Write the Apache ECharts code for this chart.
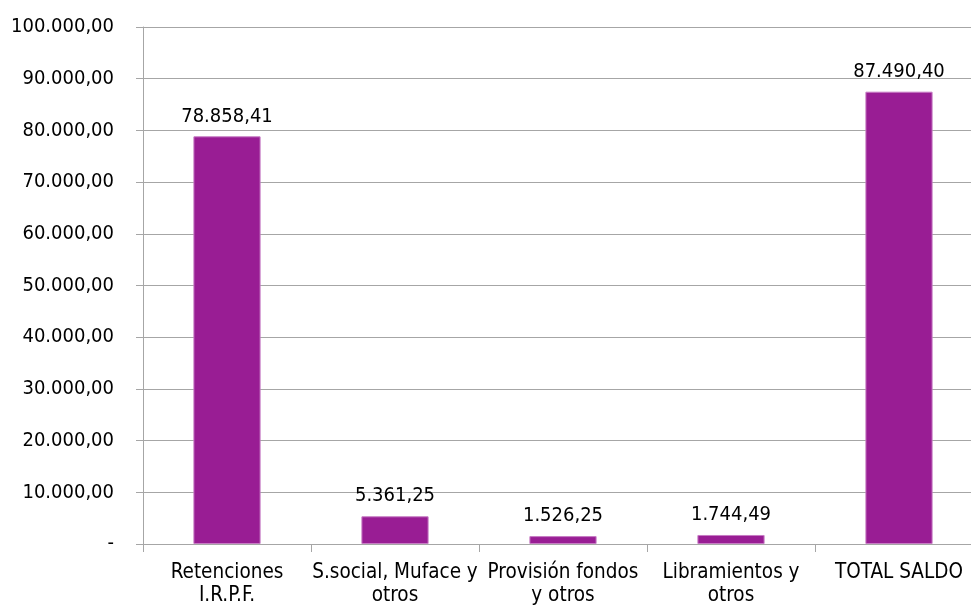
<!DOCTYPE html>
<html>
<head>
<meta charset="utf-8">
<script src="https://cdn.jsdelivr.net/npm/echarts@6/dist/echarts.min.js"></script>
<style>
  html, body { margin: 0; padding: 0; background: #fff; overflow: hidden; }
  #show { width: 983px; height: 607px; }
</style>
</head>
<body>
<div id="show"></div>
<script>
// el gráfico original queda recortado por la derecha: contenedor algo más ancho que la ventana
var myChart = echarts.init(document.getElementById("show"));

var categories = [
    "Retenciones\nI.R.P.F.",
    "S.social, Muface y\notros",
    "Provisión fondos\ny otros",
    "Libramientos y\notros",
    "TOTAL SALDO"
];
var values = [78858.41, 5361.25, 1526.25, 1744.49, 87490.40];

// formato español: 12.345,67
function fmt(v) {
    var parts = v.toFixed(2).split(".");
    var ent = parts[0].replace(/\B(?=(\d{3})+(?!\d))/g, ".");
    return ent + "," + parts[1];
}

var fontFamily = "DejaVu Sans Condensed";
var gris = "#a6a6a6";

myChart.setOption({
    animation: false,
    grid: {
        left: 143,
        top: 27,
        bottom: 63,
        right: 0
    },
    xAxis: {
        type: "category",
        data: categories,
        axisLine: { lineStyle: { color: gris, width: 1 } },
        axisTick: { show: true, length: 8, lineStyle: { color: gris } },
        axisLabel: {
            color: "#000",
            fontFamily: fontFamily,
            fontSize: 20.5,
            lineHeight: 23,
            margin: 17,
            interval: 0
        }
    },
    yAxis: {
        type: "value",
        min: 0,
        max: 100000,
        interval: 10000,
        axisLine: { show: true, lineStyle: { color: gris, width: 1 } },
        axisTick: { show: true, length: 7, lineStyle: { color: gris } },
        splitLine: { lineStyle: { color: gris, width: 1 } },
        axisLabel: {
            color: "#000",
            fontFamily: fontFamily,
            fontSize: 20,
            margin: 29,
            formatter: function (v) {
                return v === 0 ? "-" : fmt(v);
            }
        }
    },
    series: [
        {
            type: "bar",
            data: values,
            barWidth: "40%",
            itemStyle: {
                color: "#991d94",
                borderColor: "#c77cc4",
                borderWidth: 1
            },
            label: {
                show: true,
                position: "top",
                distance: 10,
                color: "#000",
                fontFamily: fontFamily,
                fontSize: 20,
                formatter: function (p) { return fmt(p.value); }
            }
        }
    ]
});
</script>
</body>
</html>
